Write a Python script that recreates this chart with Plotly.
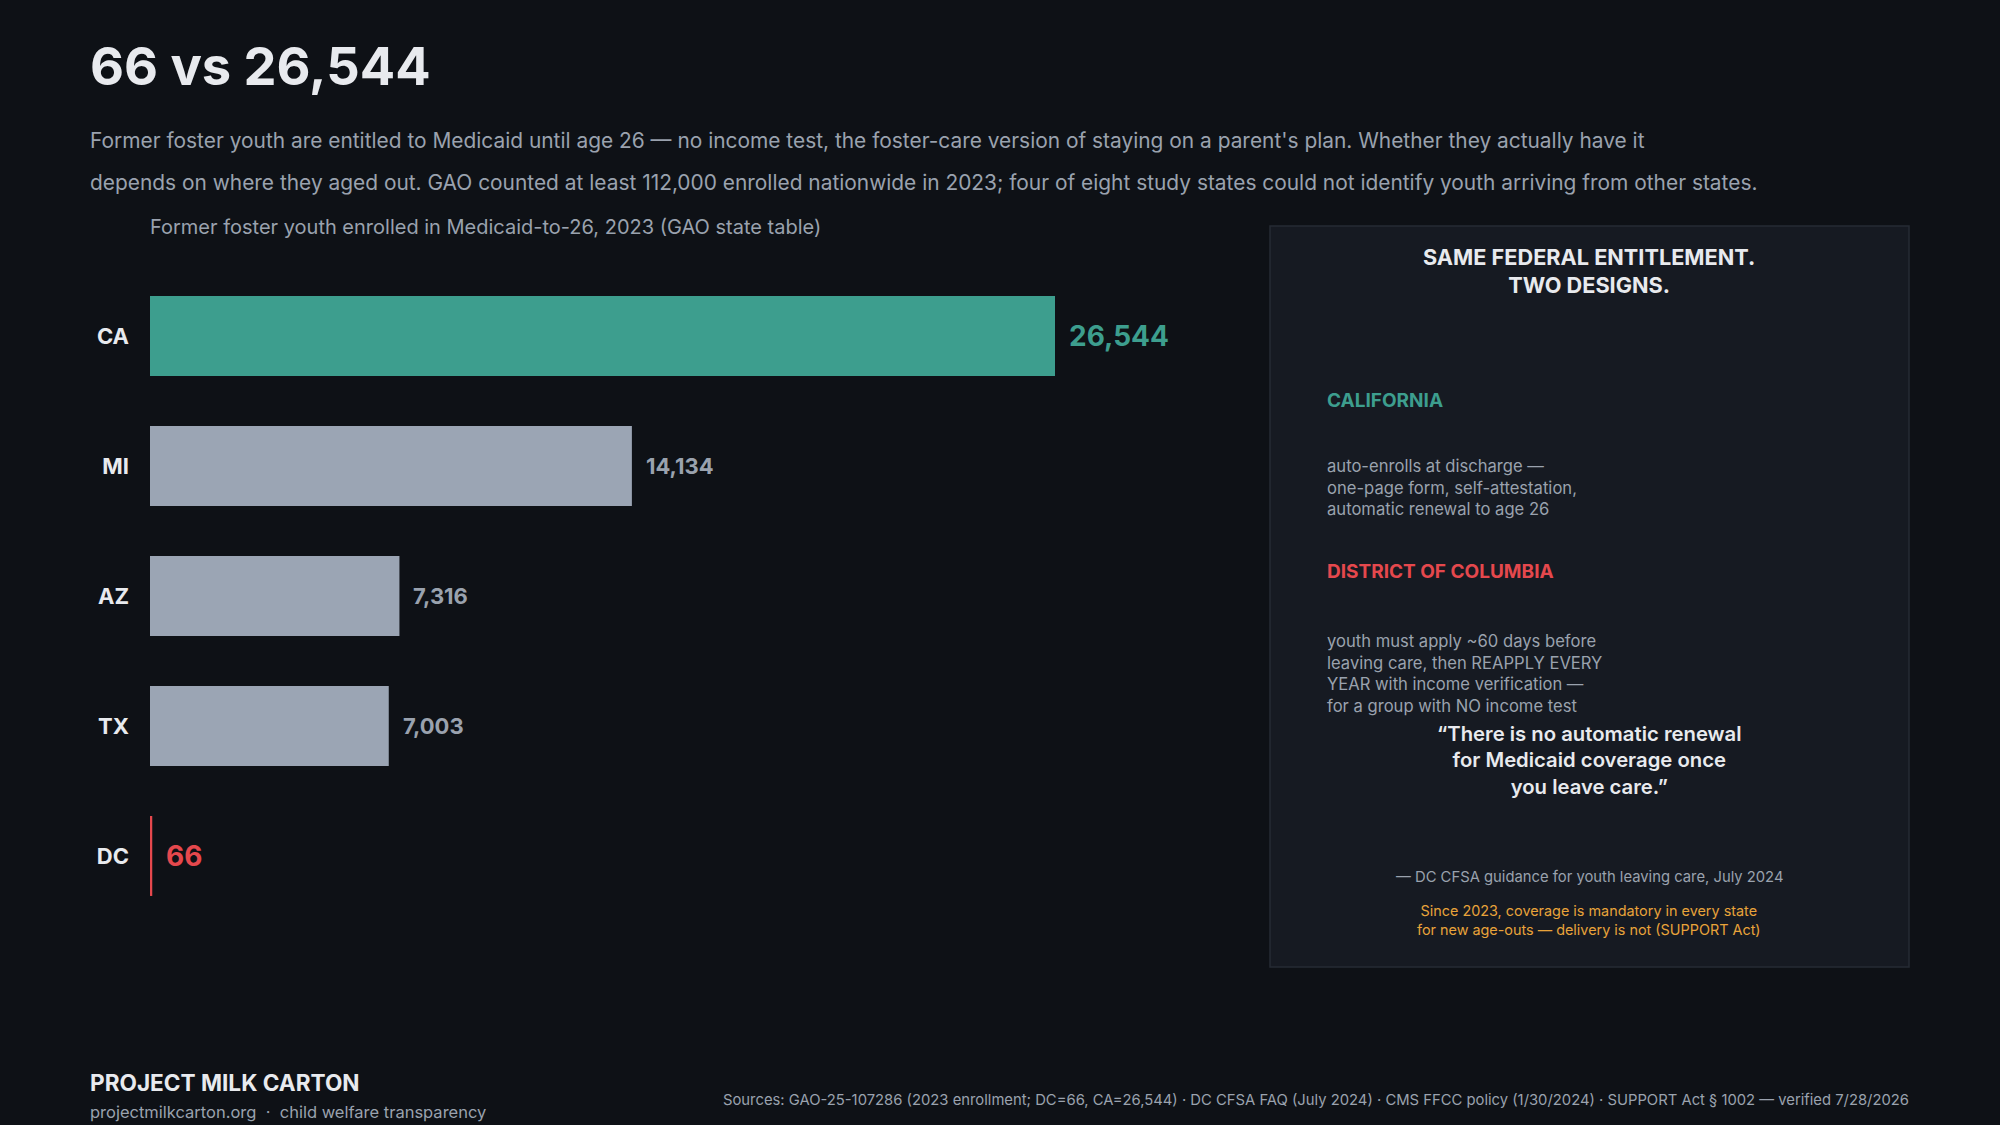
import plotly.graph_objects as go

# ---- data ----
states = ["CA", "MI", "AZ", "TX", "DC"]
enrolled = [26544, 14134, 7316, 7003, 66]
value_labels = ["26,544", "14,134", "7,316", "7,003", "66"]

W, H = 2000, 1125
BG = "#0e1116"
PANEL_BG = "#161a22"
PANEL_BORDER = "#262b34"
TEAL = "#3d9e8e"
GREY = "#9ba5b4"
RED = "#e5484d"
ORANGE = "#e8a33a"
WHITE = "#e8eaee"
MUTED = "#9aa2ae"
FONT = "Inter"

bar_colors = [TEAL, GREY, GREY, GREY, RED]
label_colors = [TEAL, MUTED, MUTED, MUTED, RED]
label_sizes = [28, 22, 22, 22, 28]
label_weights = [700, 700, 700, 700, 700]


def px(x):
    return x / W


def py(y):
    return 1 - y / H


fig = go.Figure()
fig.add_trace(go.Bar(
    x=enrolled, y=states, orientation="h",
    marker=dict(color=bar_colors, line=dict(width=0)),
    hoverinfo="skip",
))

annotations = []
for s, v, t, c, fs, fw in zip(states, enrolled, value_labels, label_colors, label_sizes, label_weights):
    annotations.append(dict(
        x=v, y=s, xref="x", yref="y", text=t, showarrow=False,
        xanchor="left", yanchor="middle", xshift=12,
        font=dict(family=FONT, size=fs, color=c, weight=fw),
    ))


def txt(x, y, text, size, color, weight=400, xanchor="left", align="left", yanchor="middle"):
    annotations.append(dict(
        x=px(x), y=py(y), xref="paper", yref="paper", text=text, showarrow=False,
        xanchor=xanchor, yanchor=yanchor, align=align,
        font=dict(family=FONT, size=size, color=color, weight=weight),
    ))


# header
txt(88, 66, "66 vs 26,544", 52.4, WHITE, 700)
txt(88, 141, "Former foster youth are entitled to Medicaid until age 26 — no income test, the foster-care version of staying on a parent's plan. Whether they actually have it", 20.9, MUTED)
txt(88, 182, "depends on where they aged out. GAO counted at least 112,000 enrolled nationwide in 2023; four of eight study states could not identify youth arriving from other states.", 20.9, MUTED)
txt(148, 227, "Former foster youth enrolled in Medicaid-to-26, 2023 (GAO state table)", 20, MUTED)

# panel
cx = 1589
txt(cx, 271, "SAME FEDERAL ENTITLEMENT.<br>TWO DESIGNS.", 21.7, WHITE, 700, xanchor="center", align="center")
txt(1325, 400, "CALIFORNIA", 19, TEAL, 700)
txt(1325, 487, "auto-enrolls at discharge —<br>one-page form, self-attestation,<br>automatic renewal to age 26", 16.6, MUTED)
txt(1325, 571, "DISTRICT OF COLUMBIA", 19, RED, 700)
txt(1325, 673, "youth must apply ~60 days before<br>leaving care, then REAPPLY EVERY<br>YEAR with income verification —<br>for a group with NO income test", 16.6, MUTED)
txt(cx, 760, "“There is no automatic renewal<br>for Medicaid coverage once<br>you leave care.”", 20.3, WHITE, 600, xanchor="center", align="center")
txt(cx, 877, "— DC CFSA guidance for youth leaving care, July 2024", 14.8, MUTED, xanchor="center", align="center")
txt(cx, 920, "Since 2023, coverage is mandatory in every state<br>for new age-outs — delivery is not (SUPPORT Act)", 14.4, ORANGE, xanchor="center", align="center")

# footer
txt(88, 1082, "PROJECT MILK CARTON", 22.6, WHITE, 700)
txt(88, 1112, "projectmilkcarton.org  ·  child welfare transparency", 16.5, MUTED)
txt(1911, 1100, "Sources: GAO-25-107286 (2023 enrollment; DC=66, CA=26,544) · DC CFSA FAQ (July 2024) · CMS FFCC policy (1/30/2024) · SUPPORT Act § 1002 — verified 7/28/2026", 14.8, MUTED, xanchor="right", align="right")

shapes = [dict(
    type="rect", xref="paper", yref="paper",
    x0=px(1270), x1=px(1909), y0=py(967), y1=py(226),
    fillcolor=PANEL_BG, line=dict(color=PANEL_BORDER, width=1.5), layer="below",
)]

fig.update_layout(
    width=W, height=H, autosize=False,
    margin=dict(l=0, r=0, t=0, b=0),
    paper_bgcolor=BG, plot_bgcolor=BG,
    showlegend=False, bargap=0.385,
    font=dict(family=FONT, color=WHITE),
    xaxis=dict(domain=[px(150), px(1240)], range=[0, 31970], visible=False, fixedrange=True),
    yaxis=dict(
        domain=[py(921), py(271)], range=[4.5, -0.5], type="category",
        showgrid=False, zeroline=False, showline=False, ticks="",
        ticklabelstandoff=20,
        tickfont=dict(family=FONT, size=22, color=WHITE, weight=700),
        fixedrange=True,
    ),
    annotations=annotations, shapes=shapes,
)

fig.write_html(
    "out.html",
    config={"displayModeBar": False},
    post_script="document.body.style.margin='0';document.body.style.background='%s';document.body.style.overflow='hidden';" % BG,
)
